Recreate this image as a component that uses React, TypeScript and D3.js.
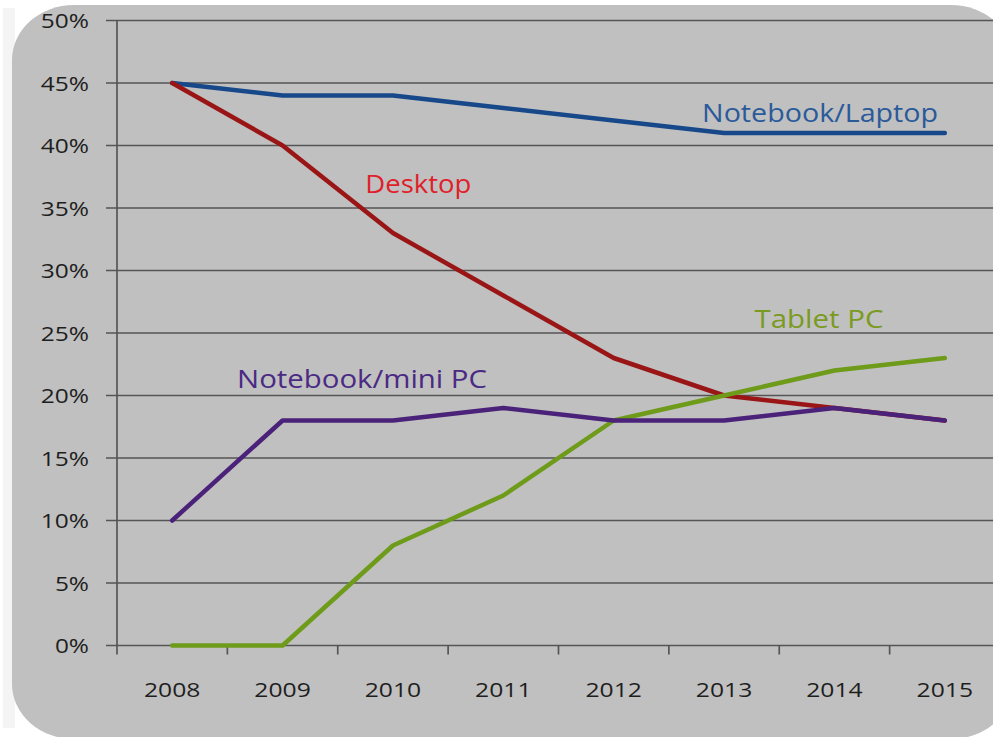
import React, { useEffect } from "react";
import * as d3 from "d3";

const years = ["2008", "2009", "2010", "2011", "2012", "2013", "2014", "2015"];
const yTicks = [0, 5, 10, 15, 20, 25, 30, 35, 40, 45, 50];

const notebookLaptop = [45, 44, 44, 43, 42, 41, 41, 41];
const desktop = [45, 40, 33, 28, 23, 20, 19, 18];
const tabletPC = [0, 0, 8, 12, 18, 20, 22, 23];
const notebookMini = [10, 18, 18, 19, 18, 18, 19, 18];

const seriesNames = ["Notebook/Laptop", "Desktop", "Tablet PC", "Notebook/mini PC"];
const seriesValues = [notebookLaptop, desktop, tabletPC, notebookMini];
const lineColors = ["#17488a", "#9a1515", "#6e9b1a", "#4b2279"];
const labelColors = ["#2a5a9a", "#e0202a", "#7a9a20", "#4a2a84"];
// label anchor in data space: [fractional category index, value]
const labelAnchors: [number, number][] = [
  [5.87, 41.88],
  [2.23, 36.2],
  [5.86, 25.4],
  [1.72, 20.6],
];
const labelWidths = [236, 106, 129, 250];

const W = 993;
const H = 737;
const left = 117;
const right = 1000;
const top = 20.5;
const bottom = 645.5;

function textLen(s: string) {
  let w = 0;
  for (const c of s) w += c === "%" ? 20 : 14.1;
  return w;
}

export default function App() {
  useEffect(() => {
    document.body.style.margin = "0";
  }, []);

  const x = d3.scaleBand<string>().domain(years).range([left, right]).padding(0);
  const y = d3.scaleLinear().domain([0, 50]).range([bottom, top]);
  const bw = x.bandwidth();
  const cx = (i: number) => (x(years[0]) as number) + bw / 2 + i * bw;

  const line = d3
    .line<number>()
    .x((_, i) => cx(i))
    .y((d) => y(d));

  const font = "'Open Sans', Lato, sans-serif";

  return (
    <svg width={W} height={H} style={{ position: "absolute", left: 0, top: 0, display: "block" }}>
      <rect x={0} y={0} width={W} height={H} fill="#ffffff" />
      <rect x={3} y={8} width={12} height={720} fill="#f4f4f4" />
      <rect x={12} y={5} width={1001} height={734} rx={62} ry={55} fill="#c0c0c0" />

      {/* gridlines */}
      {yTicks.map((t) => (
        <line key={"g" + t} x1={left - 11} x2={right} y1={y(t)} y2={y(t)} stroke="#555555" strokeWidth={1.7} />
      ))}
      {/* y axis */}
      <line x1={left} x2={left} y1={y(50)} y2={bottom + 9} stroke="#555555" strokeWidth={1.7} />
      {/* x ticks */}
      {years.map((yr) => (
        <line
          key={"xt" + yr}
          x1={(x(yr) as number) + bw}
          x2={(x(yr) as number) + bw}
          y1={bottom}
          y2={bottom + 9}
          stroke="#555555"
          strokeWidth={1.7}
        />
      ))}

      {/* y labels */}
      {yTicks.map((t) => {
        const s = `${t}%`;
        return (
          <text
            key={"yl" + t}
            x={89 - textLen(s)}
            y={y(t) + 7.5}
            fontFamily={font}
            fontSize={20}
            fill="#1e1e1e"
            textLength={textLen(s)}
            lengthAdjust="spacingAndGlyphs"
          >
            {s}
          </text>
        );
      })}

      {/* x labels */}
      {years.map((yr, i) => (
        <text
          key={"xl" + yr}
          x={cx(i) - textLen(yr) / 2}
          y={697}
          fontFamily={font}
          fontSize={20}
          fill="#1e1e1e"
          textLength={textLen(yr)}
          lengthAdjust="spacingAndGlyphs"
        >
          {yr}
        </text>
      ))}

      {/* lines */}
      {seriesValues.map((vals, k) => (
        <path
          key={"s" + k}
          d={line(vals) || ""}
          fill="none"
          stroke={lineColors[k]}
          strokeWidth={4.5}
          strokeLinejoin="round"
          strokeLinecap="round"
        />
      ))}

      {/* series labels */}
      {seriesNames.map((name, k) => {
        const [fi, v] = labelAnchors[k];
        const px = cx(0) + fi * bw;
        return (
          <text
            key={"sl" + k}
            x={px - labelWidths[k] / 2}
            y={y(v)}
            fontFamily={font}
            fontSize={25}
            fill={labelColors[k]}
            textLength={labelWidths[k]}
            lengthAdjust="spacingAndGlyphs"
          >
            {name}
          </text>
        );
      })}
    </svg>
  );
}
